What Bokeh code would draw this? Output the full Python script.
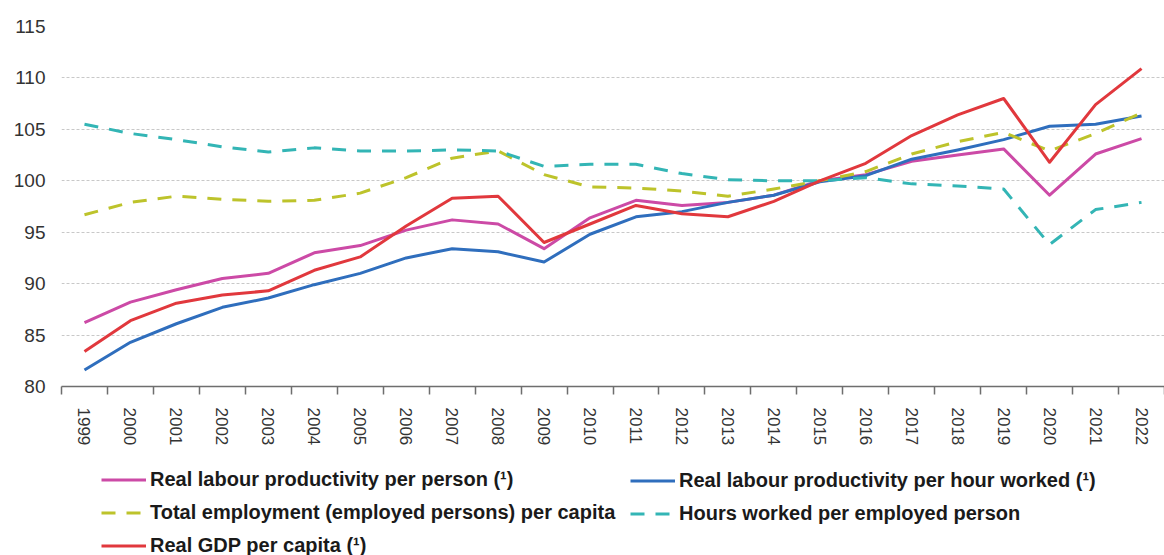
import math
from bokeh.plotting import figure
from bokeh.layouts import column
from bokeh.models import FixedTicker, Legend, LegendItem, Range1d
from bokeh.embed import file_html
from bokeh.resources import INLINE

years = [str(y) for y in range(1999, 2023)]

prod_person = [86.2, 88.2, 89.4, 90.5, 91.0, 93.0, 93.7, 95.2, 96.2, 95.8, 93.4, 96.4,
               98.1, 97.6, 97.9, 98.6, 100.0, 100.6, 101.9, 102.5, 103.1, 98.6, 102.6, 104.1]
prod_hour = [81.6, 84.3, 86.1, 87.7, 88.6, 89.9, 91.0, 92.5, 93.4, 93.1, 92.1, 94.8,
             96.5, 97.0, 97.9, 98.6, 99.9, 100.5, 102.1, 103.0, 104.0, 105.3, 105.5, 106.3]
employment = [96.7, 97.9, 98.5, 98.2, 98.0, 98.1, 98.8, 100.3, 102.2, 102.9, 100.6, 99.4,
              99.3, 99.0, 98.5, 99.2, 100.0, 100.9, 102.6, 103.8, 104.7, 102.9, 104.6, 106.6]
hours = [105.5, 104.6, 104.0, 103.3, 102.8, 103.2, 102.9, 102.9, 103.0, 102.9, 101.4, 101.6,
         101.6, 100.7, 100.1, 100.0, 100.0, 100.3, 99.7, 99.5, 99.2, 93.8, 97.2, 97.9]
gdp_capita = [83.4, 86.4, 88.1, 88.9, 89.3, 91.3, 92.6, 95.6, 98.3, 98.5, 94.0, 95.8,
              97.6, 96.8, 96.5, 98.0, 100.0, 101.7, 104.4, 106.4, 108.0, 101.8, 107.4, 110.9]

labels = ["Real labour productivity per person (\u00b9)",
          "Real labour productivity per hour worked (\u00b9)",
          "Total employment (employed persons) per capita",
          "Hours worked per employed person",
          "Real GDP per capita (\u00b9)"]
colors = ["#cc4aa6", "#2f6ebd", "#bdc32b", "#33b5b5", "#e1383d"]
dashes = ["solid", "solid", "14 11", "14 11", "solid"]
series = [prod_person, prod_hour, employment, hours, gdp_capita]

xs = list(range(len(years)))

p = figure(width=1164, height=448, output_backend="svg", toolbar_location=None,
           x_range=Range1d(-0.5, len(years) - 0.5), y_range=Range1d(80, 115),
           min_border_left=61, min_border_right=0, min_border_top=26,
           min_border_bottom=60)
p.outline_line_color = None
p.background_fill_color = "white"
p.border_fill_color = "white"

for vals, col, dash in zip(series, colors, dashes):
    p.line(xs, vals, line_color=col, line_width=3, line_dash=dash, line_join="round")

p.xaxis.ticker = FixedTicker(ticks=xs, minor_ticks=[i - 0.5 for i in range(len(years) + 1)])
p.xaxis.major_label_overrides = {i: y for i, y in enumerate(years)}
p.xaxis.major_label_orientation = -math.pi / 2
p.xaxis.major_tick_line_color = None
p.xaxis.major_tick_out = 0
p.xaxis.major_tick_in = 0
p.xaxis.minor_tick_out = 8
p.xaxis.minor_tick_in = 0
p.xaxis.minor_tick_line_color = "#6e6e6e"
p.xaxis.minor_tick_line_width = 1.5
p.xaxis.axis_line_color = "#6e6e6e"
p.xaxis.axis_line_width = 1.5
p.xaxis.major_label_standoff = 13
p.xaxis.major_label_text_font = "Liberation Sans"
p.xaxis.major_label_text_font_size = "17px"
p.xaxis.major_label_text_color = "#333333"

p.yaxis.ticker = FixedTicker(ticks=[80, 85, 90, 95, 100, 105, 110, 115])
p.yaxis.axis_line_color = None
p.yaxis.major_tick_line_color = None
p.yaxis.minor_tick_line_color = None
p.yaxis.major_tick_out = 0
p.yaxis.major_label_standoff = 16
p.yaxis.major_label_text_font = "Liberation Sans"
p.yaxis.major_label_text_font_size = "19px"
p.yaxis.major_label_text_color = "#333333"

p.xgrid.grid_line_color = None
p.ygrid.grid_line_color = "#c8c8c8"
p.ygrid.grid_line_dash = "3 2"
p.ygrid.grid_line_width = 1

# legend panel below the chart
lp = figure(width=1164, height=107, output_backend="svg", toolbar_location=None,
            x_range=Range1d(0, 1), y_range=Range1d(0, 1),
            x_axis_type=None, y_axis_type=None, min_border=0)
lp.outline_line_color = None
lp.grid.visible = False

keys = []
for col, dash in zip(colors, dashes):
    # key lines kept outside the visible range; they only feed the legend
    keys.append(lp.line([5, 6], [5, 6], line_color=col, line_width=3, line_dash=dash))

def make_legend(idx, loc):
    return Legend(items=[LegendItem(label=labels[i], renderers=[keys[i]]) for i in idx],
                  orientation="vertical", location=loc, border_line_color=None,
                  background_fill_alpha=0,
                  label_text_font="Liberation Sans", label_text_font_size="20px",
                  label_text_font_style="bold", label_text_color="#1a1a1a",
                  glyph_width=45, glyph_height=23, label_standoff=4,
                  spacing=10, padding=0, margin=0)

lp.add_layout(make_legend([0, 2, 4], (40, -2)), "center")
lp.add_layout(make_legend([1, 3], (569, 30)), "center")

layout = column(p, lp, spacing=0)
open("out.html", "w").write(file_html(layout, INLINE))
